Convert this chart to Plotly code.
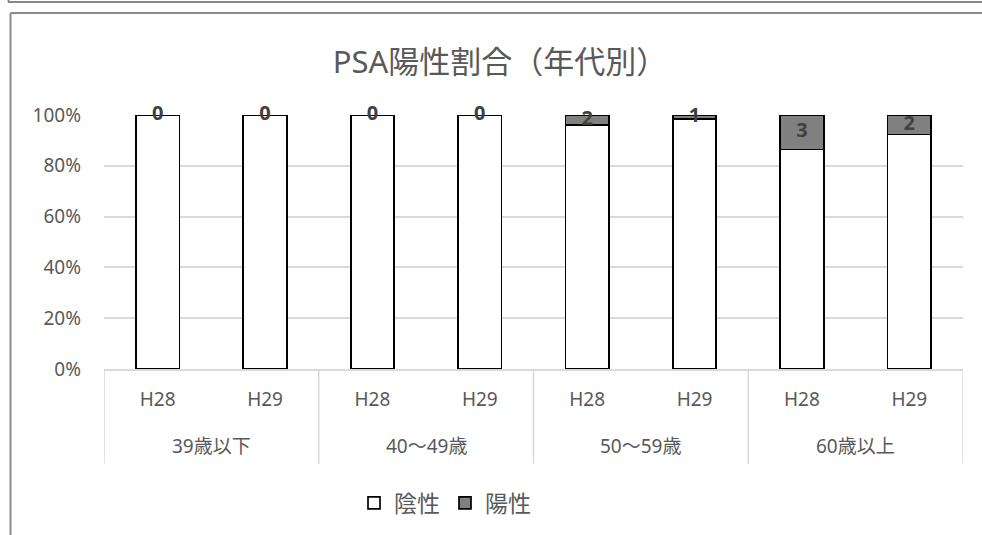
import plotly.graph_objects as go

group_names = ["39歳以下", "40～49歳", "50～59歳", "60歳以上"]
years = ["H28", "H29", "H28", "H29", "H28", "H29", "H28", "H29"]
neg_pct = [100, 100, 100, 100, 96.1, 98.4, 86.4, 92.3]
pos_pct = [0, 0, 0, 0, 3.9, 1.6, 13.6, 7.7]
pos_count = [0, 0, 0, 0, 2, 1, 3, 2]
y_ticks = [0, 20, 40, 60, 80, 100]
y_tick_labels = ["0%", "20%", "40%", "60%", "80%", "100%"]

FONT = "Noto Sans, Noto Sans CJK JP"
TXT = "#595959"
GRID = "#d9d9d9"

W, H = 982, 535
L, R, T, B = 104, 963, 115, 370  # plot area in px

xs = list(range(len(years)))
per_group = len(years) // len(group_names)


def px(x):
    return (x - L) / (R - L)


def py(y):
    return (B - y) / (B - T)


fig = go.Figure()
fig.add_trace(go.Bar(
    x=xs, y=neg_pct, name="陰性",
    marker=dict(color="white", line=dict(color="black", width=1.7)),
    width=0.405,
))
fig.add_trace(go.Bar(
    x=xs, y=pos_pct, name="陽性",
    marker=dict(color="#808080", line=dict(color="black", width=1.7)),
    width=0.405,
))
fig.add_trace(go.Scatter(
    x=xs, y=[100 - p / 2 for p in pos_pct],
    mode="text", text=[str(c) for c in pos_count],
    textfont=dict(family=FONT, size=20, color="#404040", weight="bold"),
    showlegend=False, hoverinfo="skip", cliponaxis=False,
))

shapes = [
    # frame of cropped chart above
    dict(type="line", xref="paper", yref="paper", x0=px(8), x1=px(990), y0=py(1.5), y1=py(1.5),
         line=dict(color="#888888", width=2)),
    dict(type="line", xref="paper", yref="paper", x0=px(8.5), x1=px(8.5), y0=py(-5), y1=py(1.5),
         line=dict(color="#888888", width=2)),
    # chart area border
    dict(type="line", xref="paper", yref="paper", x0=px(10.5), x1=px(990), y0=py(12.5), y1=py(12.5),
         line=dict(color="#8c8c8c", width=2)),
    dict(type="line", xref="paper", yref="paper", x0=px(10.5), x1=px(10.5), y0=py(12.5), y1=py(545),
         line=dict(color="#8c8c8c", width=2)),
]
# category group dividers
for g in range(len(group_names) + 1):
    xd = g * per_group - 0.5
    shapes.append(dict(type="line", xref="x", yref="paper", x0=xd, x1=xd, y0=py(370), y1=py(465),
                       line=dict(color=GRID, width=1.5)))

annotations = []
for g, name in enumerate(group_names):
    xc = g * per_group + (per_group - 1) / 2
    annotations.append(dict(x=xc, xref="x", y=py(447), yref="paper", text=name, showarrow=False,
                            xanchor="center", yanchor="middle",
                            font=dict(family=FONT, size=19, color=TXT)))

fig.update_layout(
    width=W, height=H,
    margin=dict(l=L, r=W - R, t=T, b=H - B),
    paper_bgcolor="white", plot_bgcolor="white",
    barmode="stack",
    font=dict(family=FONT, color=TXT, size=19),
    title=dict(text="PSA陽性割合（年代別）", x=px(500), xanchor="center", xref="paper",
               y=1 - 62 / H, yanchor="middle", font=dict(size=31, color=TXT, family=FONT)),
    xaxis=dict(range=[-0.5, len(years) - 0.5], tickvals=xs, ticktext=years, showgrid=False,
               showline=True, linecolor=GRID, linewidth=1.5, zeroline=False, ticks="",
               tickfont=dict(size=19, color=TXT), ticklabelstandoff=12),
    yaxis=dict(range=[0, 100], tickvals=y_ticks, ticktext=y_tick_labels, showgrid=True,
               gridcolor=GRID, gridwidth=1.5, zeroline=False, showline=False,
               tickfont=dict(size=19, color=TXT), ticklabelstandoff=22),
    legend=dict(orientation="h", x=px(445), xanchor="center", y=py(503), yanchor="middle",
                font=dict(size=23, color=TXT), itemwidth=30, traceorder="normal"),
    shapes=shapes,
    annotations=annotations,
    showlegend=True,
)
fig.write_html("out.html")
